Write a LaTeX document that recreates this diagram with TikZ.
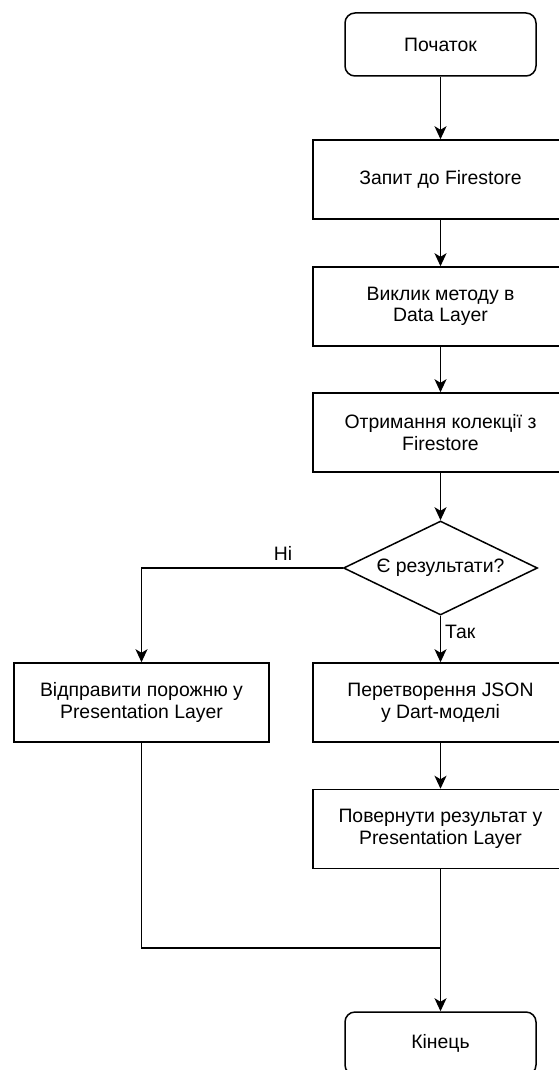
\documentclass[tikz,border=0pt]{standalone}
\usepackage{fontspec}
\setmainfont{Liberation Sans}
\usepackage{tikz}
\usetikzlibrary{shapes.geometric,arrows.meta}
\tikzstyle{startstop} = [rectangle, rounded corners=10pt, minimum width=191pt, minimum height=63pt, text centered, draw=black, line width=1.5pt, font=\fontsize{19.4}{21.5}\selectfont]
\tikzstyle{process}   = [rectangle, minimum width=255pt, minimum height=79pt, align=center, draw=black, line width=1.5pt, font=\fontsize{19.4}{21.5}\selectfont]
\tikzstyle{decision}  = [diamond, aspect=2.06, minimum width=194pt, minimum height=94pt, inner sep=0pt, text centered, draw=black, line width=1.5pt, font=\fontsize{19.4}{21.5}\selectfont]
\tikzstyle{arrow}     = [line width=1.5pt,-{Stealth[length=13pt,width=12pt,inset=3.5pt]}]
\tikzstyle{line}      = [line width=1.5pt]
\tikzstyle{lbl}       = [font=\fontsize{19.4}{21.5}\selectfont, inner sep=0pt]

\begin{document}
\begin{tikzpicture}[x=1pt,y=-1pt]
		\useasboundingbox (0,0) rectangle (558,1070);

		\node (start)  [startstop] at (440.5,44.5) {Початок};
		\node (query)  [process]   at (440.5,179.5) {Запит до Firestore};
		\node (call)   [process]   at (440.5,306.5) {Виклик методу в\\Data Layer};
		\node (fetch)  [process]   at (440.5,432.5) {Отримання колекції з\\Firestore};
		\node (check)  [decision]  at (440.5,568) {Є результати?};
		\node (empty)  [process]   at (141.5,702.5) {Відправити порожню у\\Presentation Layer};
		\node (parse)  [process]   at (440.5,702.5) {Перетворення JSON\\у Dart-моделі};
		\node (result) [process]   at (440.5,829) {Повернути результат у\\Presentation Layer};
		\node (stop)   [startstop] at (440.5,1043.5) {Кінець};
		\coordinate (merge) at (440.5,948);

		\draw[arrow] (start) -- (query);
		\draw[arrow] (query) -- (call);
		\draw[arrow] (call) -- (fetch);
		\draw[arrow] (fetch) -- (check);

		\draw[arrow] (check.west) -| (empty.north);
		\node (no) [lbl] at (283,553) {Ні};
		\draw[arrow] (check.south) -- (parse.north);
		\node (yes) [lbl, anchor=west] at (445,632) {Так};

		\draw[arrow] (parse) -- (result);
		\draw[line] (empty.south) |- (merge);
		\draw[arrow] (result.south) -- (stop.north);
	\end{tikzpicture}
\end{document}
